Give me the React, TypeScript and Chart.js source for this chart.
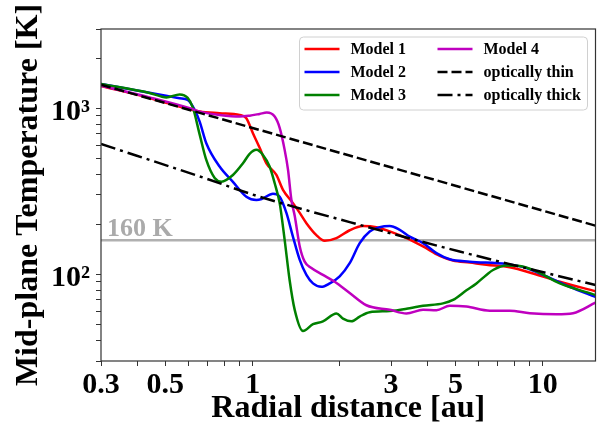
import React, { useEffect, useRef } from 'react';
import { Chart, registerables } from 'chart.js';

Chart.register(...registerables);

type Pt = [number, number];

// ---- data (radius in au, temperature in K) ----
const model1: Pt[] = [
  [0.3, 1362], [0.441, 1153], [0.657, 954], [0.769, 933], [0.902, 911], [0.951, 871],
  [1.002, 707], [1.057, 577], [1.115, 466], [1.207, 396], [1.272, 322], [1.377, 268],
  [1.453, 234], [1.532, 203], [1.658, 172], [1.771, 159], [1.944, 165], [2.16, 184],
  [2.4, 195], [2.67, 192], [2.968, 181], [3.388, 165], [3.866, 147], [4.414, 129],
  [4.906, 121], [5.602, 117.5], [6.395, 114], [7.694, 110], [9.26, 101], [11.45, 90],
  [15.2, 79],
];
const model2: Pt[] = [
  [0.3, 1400], [0.408, 1269], [0.517, 1178], [0.56, 1149], [0.597, 1122], [0.631, 977],
  [0.657, 827], [0.692, 615], [0.769, 445], [0.855, 360], [0.951, 293], [1.03, 280],
  [1.074, 284], [1.175, 305], [1.239, 293], [1.307, 234], [1.377, 168], [1.453, 122],
  [1.532, 99], [1.614, 88], [1.725, 84], [1.843, 88], [1.995, 97], [2.16, 116.5],
  [2.339, 154], [2.532, 181], [2.741, 192], [2.968, 195], [3.213, 185], [3.478, 168.5],
  [3.866, 154], [4.3, 134], [4.779, 123], [5.602, 119], [7.497, 115], [8.785, 109],
  [10.3, 97], [12.39, 84], [15.2, 73],
];
const model3: Pt[] = [
  [0.3, 1400], [0.441, 1236], [0.504, 1162], [0.56, 1211], [0.597, 1153], [0.6225, 1004],
  [0.657, 691], [0.692, 488], [0.7396, 380], [0.78, 361], [0.855, 396], [0.926, 466],
  [0.976, 531], [1.03, 561], [1.085, 523], [1.144, 445], [1.191, 353], [1.239, 268],
  [1.289, 161], [1.341, 92], [1.396, 61], [1.491, 45.5], [1.614, 50], [1.747, 52],
  [1.944, 58], [2.048, 54], [2.189, 52], [2.339, 55.6], [2.532, 59], [2.968, 60],
  [3.478, 62.4], [3.866, 64.5], [4.531, 66.7], [4.906, 70], [5.457, 80], [5.907, 88],
  [6.395, 99], [6.74, 106], [7.497, 112.7], [8.33, 112], [9.51, 104], [11.45, 88],
  [15.2, 75],
];
const model4: Pt[] = [
  [0.3, 1368], [0.441, 1162], [0.6065, 1000], [0.657, 954], [0.769, 911], [0.902, 890],
  [0.976, 902], [1.057, 924], [1.118, 941], [1.191, 890], [1.239, 761], [1.289, 561],
  [1.324, 425], [1.36, 280], [1.396, 225], [1.453, 147], [1.511, 119], [1.594, 109],
  [1.747, 99], [1.918, 90], [2.16, 77], [2.466, 65], [2.968, 61], [3.388, 58],
  [3.866, 61], [4.3, 60.7], [4.779, 64.5], [5.457, 63.8], [6.566, 60.3], [7.694, 60.3],
  [9.02, 58.2], [11.15, 57.3], [12.72, 58.2], [15.2, 67.4],
];
const opticallyThin: Pt[] = [[0.3, 1385], [15.2, 196]];
const opticallyThick: Pt[] = [
  [0.3, 609], [0.69, 377], [1.03, 297], [2.16, 206], [5.17, 137], [15.2, 86],
];
const snowLine: Pt[] = [[0.3, 160], [15.2, 160]];
const snowLineLabel = '160 K';

const seriesNames = ['Model 1', 'Model 2', 'Model 3', 'Model 4', 'optically thin', 'optically thick'];
const seriesColors = ['#ff0000', '#0000ff', '#008000', '#bf00bf', '#000000', '#000000'];

const xRange: [number, number] = [0.3, 15.2];
const yRange: [number, number] = [30, 3000];
const xTickValues = [0.3, 0.4, 0.5, 0.6, 0.7, 0.8, 0.9, 1, 2, 3, 4, 5, 6, 7, 8, 9, 10];
const xLabelValues = [0.3, 0.5, 1, 3, 5, 10];
const xLabelTexts = ['0.3', '0.5', '1', '3', '5', '10'];
const yTickValues = [30, 40, 50, 60, 70, 80, 90, 100, 200, 300, 400, 500, 600, 700, 800, 900, 1000, 2000, 3000];
const yLabelValues = [100, 1000];
const yLabelTexts = ['10²', '10³'];

const xTitle = 'Radial distance [au]';
const yTitle = 'Mid-plane Temperature [K]';

const FONT = "'Liberation Serif', 'Times New Roman', 'DejaVu Serif', serif";

const toXY = (pts: Pt[]) => pts.map(([x, y]) => ({ x, y }));

const decorPlugin = {
  id: 'decor',
  afterDraw(chart: any) {
    const { ctx, chartArea } = chart;
    const { left, top, right, bottom } = chartArea;
    ctx.save();
    // frame
    ctx.strokeStyle = '#333';
    ctx.lineWidth = 1.2;
    ctx.setLineDash([]);
    ctx.strokeRect(left, top, right - left, bottom - top);

    // 160 K label
    const xs = chart.scales.x;
    const ys = chart.scales.y;
    ctx.fillStyle = '#aaaaaa';
    ctx.font = `bold 26px ${FONT}`;
    ctx.textBaseline = 'alphabetic';
    ctx.textAlign = 'left';
    ctx.fillText(snowLineLabel, xs.getPixelForValue(snowLine[0][0]) + 6, ys.getPixelForValue(snowLine[0][1]) - 4);

    // legend
    const bx = right - 296;
    const by = top + 8;
    const bw = 288;
    const bh = 73;
    const r = 4;
    ctx.beginPath();
    ctx.moveTo(bx + r, by);
    ctx.lineTo(bx + bw - r, by);
    ctx.quadraticCurveTo(bx + bw, by, bx + bw, by + r);
    ctx.lineTo(bx + bw, by + bh - r);
    ctx.quadraticCurveTo(bx + bw, by + bh, bx + bw - r, by + bh);
    ctx.lineTo(bx + r, by + bh);
    ctx.quadraticCurveTo(bx, by + bh, bx, by + bh - r);
    ctx.lineTo(bx, by + r);
    ctx.quadraticCurveTo(bx, by, bx + r, by);
    ctx.closePath();
    ctx.fillStyle = 'rgba(255,255,255,0.85)';
    ctx.fill();
    ctx.strokeStyle = '#d0d0d0';
    ctx.lineWidth = 1;
    ctx.stroke();

    const order = [0, 1, 2, 3, 4, 5];
    order.forEach((di, k) => {
      const ds = chart.data.datasets[di];
      const col = Math.floor(k / 3);
      const row = k % 3;
      const sx = bx + 5 + col * 133;
      const sy = by + 12 + row * 23;
      ctx.beginPath();
      ctx.strokeStyle = ds.borderColor;
      ctx.lineWidth = ds.borderWidth;
      ctx.setLineDash(ds.borderDash || []);
      ctx.moveTo(sx, sy);
      ctx.lineTo(sx + 35, sy);
      ctx.stroke();
      ctx.setLineDash([]);
      ctx.fillStyle = '#000';
      ctx.font = `bold 16px ${FONT}`;
      ctx.textBaseline = 'middle';
      ctx.textAlign = 'left';
      ctx.fillText(ds.label, sx + 46, sy + 1);
    });
    ctx.restore();
  },
};

export default function App() {
  const ref = useRef<HTMLCanvasElement | null>(null);
  useEffect(() => {
    if (!ref.current) return;
    const series = [model1, model2, model3, model4];
    const datasets: any[] = series.map((s, i) => ({
      label: seriesNames[i],
      data: toXY(s),
      borderColor: seriesColors[i],
      borderWidth: 2.5,
      pointRadius: 0,
      cubicInterpolationMode: 'monotone',
      order: 10 - i,
    }));
    datasets.push({
      label: seriesNames[4],
      data: toXY(opticallyThin),
      borderColor: seriesColors[4],
      borderWidth: 2.5,
      borderDash: [10, 4],
      pointRadius: 0,
      tension: 0,
      order: 2,
    });
    datasets.push({
      label: seriesNames[5],
      data: toXY(opticallyThick),
      borderColor: seriesColors[5],
      borderWidth: 2.5,
      borderDash: [15, 5, 3, 5],
      pointRadius: 0,
      cubicInterpolationMode: 'monotone',
      order: 1,
    });
    datasets.push({
      label: snowLineLabel,
      data: toXY(snowLine),
      borderColor: '#b0b0b0',
      borderWidth: 2.5,
      pointRadius: 0,
      order: 20,
    });

    const tickFont = { family: FONT, size: 30, weight: 'bold' as const };
    const titleFont = { family: FONT, size: 32, weight: 'bold' as const };

    const chart = new Chart(ref.current, {
      type: 'line',
      data: { datasets },
      options: {
        animation: false,
        responsive: true,
        maintainAspectRatio: false,
        devicePixelRatio: 1,
        layout: { padding: { top: 29, right: 9.5, left: 0, bottom: 0 } },
        plugins: { legend: { display: false }, tooltip: { enabled: false } },
        scales: {
          x: {
            type: 'logarithmic',
            min: xRange[0],
            max: xRange[1],
            border: { display: false },
            grid: { drawOnChartArea: false, drawTicks: true, tickLength: 5, color: '#333' },
            afterBuildTicks: (scale: any) => {
              scale.ticks = xTickValues.map((v) => ({ value: v }));
            },
            afterFit: (scale: any) => {
              scale.height = 71;
            },
            ticks: {
              autoSkip: false,
              maxRotation: 0,
              minRotation: 0,
              padding: 1,
              color: '#000',
              font: tickFont,
              callback: (v: any) => {
                const i = xLabelValues.indexOf(Number(v));
                return i >= 0 ? xLabelTexts[i] : '';
              },
            },
            title: {
              display: true,
              text: xTitle,
              color: '#000',
              font: titleFont,
              padding: { top: 0, bottom: 4 },
            },
          },
          y: {
            type: 'logarithmic',
            min: yRange[0],
            max: yRange[1],
            border: { display: false },
            grid: { drawOnChartArea: false, drawTicks: true, tickLength: 5, color: '#333' },
            afterBuildTicks: (scale: any) => {
              scale.ticks = yTickValues.map((v) => ({ value: v }));
            },
            afterFit: (scale: any) => {
              scale.width = 101;
            },
            ticks: {
              autoSkip: false,
              padding: 6,
              labelOffset: 4,
              color: '#000',
              font: tickFont,
              callback: (v: any) => {
                const i = yLabelValues.indexOf(Number(v));
                return i >= 0 ? yLabelTexts[i] : '';
              },
            },
            title: {
              display: true,
              text: yTitle,
              color: '#000',
              font: titleFont,
              padding: { top: 10, bottom: 0 },
            },
          },
        },
      },
      plugins: [decorPlugin],
    } as any);
    return () => chart.destroy();
  }, []);

  return (
    <div style={{ position: 'fixed', left: 0, top: 0, width: 605, height: 432, background: '#fff' }}>
      <canvas ref={ref} />
    </div>
  );
}
